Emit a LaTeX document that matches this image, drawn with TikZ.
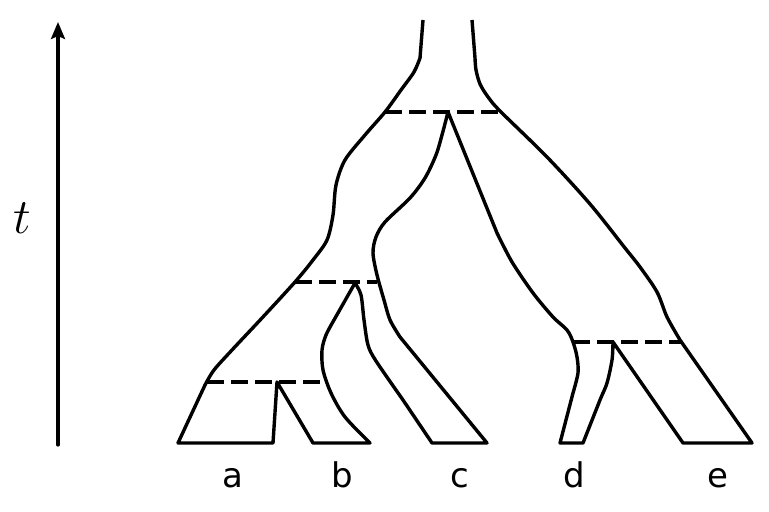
\documentclass[tikz,border=0pt]{standalone}
\usepackage{fontspec}
\usepackage{tikz}
\usetikzlibrary{arrows.meta}
\newfontfamily\leaffont{DejaVu Sans}

\begin{document}
\begin{tikzpicture}[
    x=0.5pt, y=-0.5pt,
    lineage/.style={line width=1.7pt, line join=round},
    split/.style={line width=1.7pt, dash pattern=on 8.5pt off 3.5pt},
    leaf/.style={anchor=base, font=\leaffont\fontsize{17}{20}\selectfont}
]
    \useasboundingbox (0,0) rectangle (769,512);

    % time axis
    \coordinate (t0) at (58,445);
    \coordinate (t1) at (58,22);
    \draw[line width=1.6pt, line cap=round, -{Stealth[length=8.5pt,width=7pt,inset=1.5pt]}] (t0) -- (t1);
    \node (tlab) at (22,218) {\fontsize{23}{27}\selectfont $t$};

    % split points
    \coordinate (n1) at (277,382);
    \coordinate (n2) at (355,283);
    \coordinate (n3) at (448,112);
    \coordinate (n4) at (613,342);

    % outline of the tree
    \draw[lineage] (423,20) -- (420,58)
      -- plot[smooth] coordinates {(420,58) (414,72) (401,90) (385,112) (365,135) (345,160) (336,185) (333,215) (327,240) (313,260) (295,282) (262,318) (232,350) (214,370) (205,385)}
      -- (178,443) -- (273,443) -- (n1)
      -- (313,443) -- (370,443)
      -- plot[smooth] coordinates {(370,443) (345,417) (331,393) (323,370) (322,350) (326,335) (334,320)}
      -- (n2)
      -- plot[smooth] coordinates {(n2) (361,295) (364,320) (368,345) (376,361) (403,400)}
      -- (432,443) -- (487,443) -- (400,337)
      -- plot[smooth] coordinates {(400,337) (390,320) (384,300) (377,275) (373,253) (376,237) (385,222) (410,198) (425,178) (436,155) (442,135) (n3)}
      -- (497,233)
      -- plot[smooth] coordinates {(497,233) (512,262) (533,293) (553,317) (567,330) (573,342) (577,357) (578,373) (573,393)}
      -- (560,443) -- (583,443)
      -- plot[smooth] coordinates {(583,443) (600,400) (607,383) (612,360) (n4)}
      -- (683,443) -- (752,443) -- (680,340)
      -- plot[smooth] coordinates {(680,340) (667,317) (657,292) (640,267) (625,248) (590,204) (547,157) (500,111) (488,97) (480,84) (476,70) (475,58)}
      -- (472,20);

    % speciation levels
    \coordinate (s1l) at (385,112);
    \coordinate (s1r) at (500,112);
    \coordinate (s2l) at (295,282);
    \coordinate (s2r) at (377,282);
    \coordinate (s3l) at (207,382);
    \coordinate (s3r) at (323,382);
    \coordinate (s4l) at (573,342);
    \coordinate (s4r) at (682,342);
    \foreach \i in {1,2,3,4} {
        \draw[split] (s\i l) -- (s\i r);
    }

    % species
    \foreach \n/\x in {a/233,b/342,c/460,d/574,e/718} {
        \node[leaf] (\n) at (\x,487) {\n};
    }

\end{tikzpicture}
\end{document}
